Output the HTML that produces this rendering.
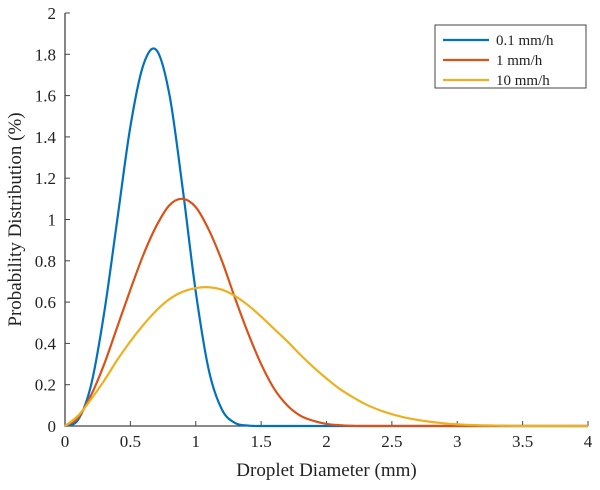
<!DOCTYPE html>
<html><head><meta charset="utf-8"><style>
body{margin:0;background:#fff}
svg{display:block;font-family:"Liberation Serif",serif}
</style></head><body>
<svg id="c" width="600" height="490"></svg>
<script>
const xs=[];for(let i=0;i<=40;i++)xs.push(i/10);
const blue=[0,0.03,0.2,0.55,1.0,1.45,1.75,1.82,1.6,1.15,0.65,0.27,0.08,0.015,0.002,0,0,0,0,0,0,0,0,0,0,0,0,0,0,0,0,0,0,0,0,0,0,0,0,0,0];
const red=[0,0.04,0.15,0.3,0.48,0.66,0.83,0.97,1.07,1.1,1.06,0.95,0.8,0.62,0.45,0.3,0.18,0.1,0.05,0.025,0.01,0.004,0.001,0,0,0,0,0,0,0,0,0,0,0,0,0,0,0,0,0,0];
const yellow=[0,0.05,0.13,0.22,0.32,0.41,0.49,0.56,0.615,0.65,0.668,0.672,0.66,0.63,0.585,0.53,0.47,0.41,0.345,0.285,0.23,0.18,0.14,0.105,0.078,0.057,0.041,0.029,0.02,0.013,0.008,0.005,0.003,0.002,0.001,0,0,0,0,0,0];
const xticks=["0","0.5","1","1.5","2","2.5","3","3.5","4"];
const yticks=["0","0.2","0.4","0.6","0.8","1","1.2","1.4","1.6","1.8","2"];
const names=["0.1 mm/h","1 mm/h","10 mm/h"];
const X0=65,X1=588,Y0=426,Y1=13;
const sx=v=>X0+(X1-X0)*v/4, sy=v=>Y0-(Y0-Y1)*v/2;
const svg=document.getElementById('c');const NS="http://www.w3.org/2000/svg";
function el(t,a,p){const e=document.createElementNS(NS,t);for(const k in a)e.setAttribute(k,a[k]);(p||svg).appendChild(e);return e;}
let ax=el('path',{d:`M${X0},${Y1}V${Y0}H${X1}`,stroke:'#444',fill:'none','stroke-width':1.3});


xticks.forEach((t,i)=>{const v=+t,x=sx(v);
 el('line',{x1:x,x2:x,y1:Y0,y2:Y0-5,stroke:'#444'});
 const tx=el('text',{x:x,y:Y0+21,'text-anchor':'middle','font-size':17,fill:'#222'});tx.textContent=t;
 
 });
yticks.forEach((t,i)=>{const v=+t,y=sy(v);
 el('line',{x1:X0,x2:X0+5,y1:y,y2:y,stroke:'#444'});
 const tx=el('text',{x:X0-9,y:y+6,'text-anchor':'end','font-size':17,fill:'#222'});tx.textContent=t;
 
 });
function path(ys){const p=xs.map((x,i)=>[sx(x),sy(ys[i])]);let d=`M${p[0][0]},${p[0][1]}`;
 for(let i=0;i<p.length-1;i++){const a=p[Math.max(i-1,0)],b=p[i],c=p[i+1],e=p[Math.min(i+2,p.length-1)];
 d+=`C${b[0]+(c[0]-a[0])/6},${b[1]+(c[1]-a[1])/6} ${c[0]-(e[0]-b[0])/6},${c[1]-(e[1]-b[1])/6} ${c[0]},${c[1]}`;}return d;}
const cols=["#0072BD","#D95319","#EDB120"];
[blue,red,yellow].forEach((s,i)=>{const l=el('path',{d:path(s),stroke:cols[i],fill:'none','stroke-width':2.2});
 
 });
const xl=el('text',{x:(X0+X1)/2,y:476,'text-anchor':'middle','font-size':19,fill:'#222'});xl.textContent="Droplet Diameter (mm)";


const yl=el('text',{x:0,y:0,'text-anchor':'middle','font-size':19,fill:'#222',transform:`translate(21,${(Y0+Y1)/2}) rotate(-90)`});yl.textContent="Probability Distribution (%)";


const lg=el('g',{});


el('rect',{x:435,y:25,width:151,height:63,fill:'#fff',stroke:'#444','stroke-width':1},lg);
names.forEach((n,i)=>{const y=40+i*20;
 const g=el('g',{},lg);
 
 
 el('line',{x1:443,x2:489,y1:y,y2:y,stroke:cols[i],'stroke-width':2.2},g);
 const t=el('text',{x:496,y:y+5,'font-size':15,fill:'#222'},g);t.textContent=n;});
</script>
</body></html>
